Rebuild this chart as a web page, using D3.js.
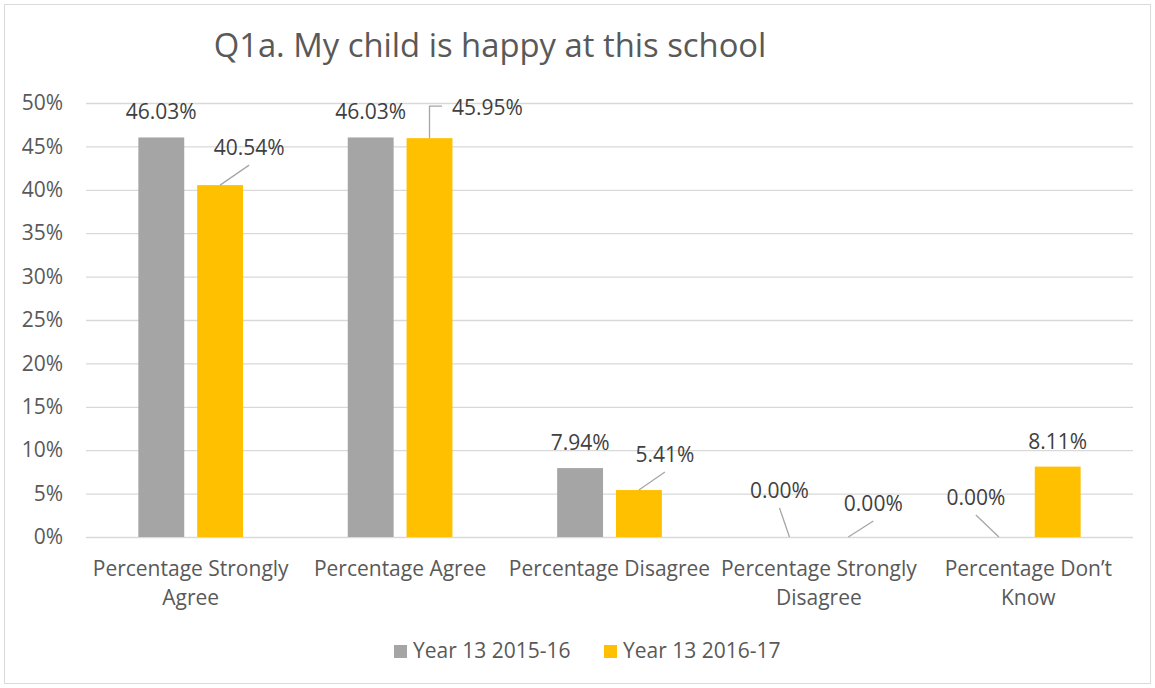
<!DOCTYPE html>
<html>
<head>
<meta charset="utf-8">
<script src="https://cdn.jsdelivr.net/npm/d3@7"></script>
<style>
  body { margin: 0; background: #fff; }
  svg text { font-family: "Open Sans", sans-serif; }
</style>
</head>
<body>
<svg id="chart" width="1155" height="688"></svg>
<script>
// chart data
const title = "Q1a. My child is happy at this school";
const categories = ["Percentage Strongly Agree", "Percentage Agree", "Percentage Disagree",
                    "Percentage Strongly Disagree", "Percentage Don\u2019t Know"];
const seriesNames = ["Year 13 2015-16", "Year 13 2016-17"];
const year2015 = [0.4603, 0.4603, 0.0794, 0.0, 0.0];
const year2016 = [0.4054, 0.4595, 0.0541, 0.0, 0.0811];
const yTicks = [0, 0.05, 0.10, 0.15, 0.20, 0.25, 0.30, 0.35, 0.40, 0.45, 0.50];
const colors = ["#a5a5a5", "#ffc000"];

// where the data labels were dragged to (offset from bar top centre), null = default
const labelMoves = [
  [null, null, null, {dx: -10, dy: -39}, {dx: -23, dy: -32}],
  [{dx: 29, dy: -30}, {dx: 58, dy: -23, elbow: true}, {dx: 26, dy: -28}, {dx: 25, dy: -26}, null]
];

const svg = d3.select("#chart"),
      margin = {top: 103, right: 22, bottom: 151, left: 86},
      width = +svg.attr("width") - margin.left - margin.right,
      height = +svg.attr("height") - margin.top - margin.bottom;

// outer border
svg.append("rect")
    .attr("x", 4.5).attr("y", 4.5)
    .attr("width", 1146).attr("height", 679)
    .attr("fill", "#fff")
    .attr("stroke", "#d9d9d9");

svg.append("text")
    .attr("x", 490).attr("y", 57)
    .attr("text-anchor", "middle")
    .attr("fill", "#595959")
    .style("font-size", "32.8px")
    .text(title);

const g = svg.append("g").attr("transform", "translate(" + margin.left + "," + margin.top + ")");

const x0 = d3.scaleBand().domain(d3.range(categories.length)).range([0, width])
    .paddingInner(0.5).paddingOuter(0.25);
const x1 = d3.scaleBand().domain([0, 1]).range([0, x0.bandwidth()]).paddingInner(0.22);
const y = d3.scaleLinear().domain([0, 0.5]).range([height, 0]);

// gridlines + tick labels
const yAxis = g.append("g")
    .call(d3.axisLeft(y).tickValues(yTicks).tickFormat(d3.format(".0%"))
          .tickSize(-width).tickPadding(23));
yAxis.select(".domain").remove();
yAxis.selectAll(".tick line").attr("stroke", "#d9d9d9").attr("stroke-width", 1.3);
yAxis.selectAll(".tick text").attr("fill", "#595959").style("font-size", "21px")
    .style("font-family", "'Open Sans', sans-serif");

// category labels, wrapped like Excel does
const catG = g.append("g").attr("transform", "translate(0," + height + ")");
categories.forEach(function(name, i) {
    const t = catG.append("text")
        .attr("x", x0(i) + x0.bandwidth() / 2)
        .attr("y", 39)
        .attr("text-anchor", "middle")
        .attr("fill", "#595959")
        .style("font-size", "21px");
    const words = name.split(" ");
    let line = [];
    let tspan = t.append("tspan").attr("x", x0(i) + x0.bandwidth() / 2).attr("dy", 0);
    words.forEach(function(w) {
        line.push(w);
        tspan.text(line.join(" "));
        if (tspan.node().getComputedTextLength() > x0.step() + 2 && line.length > 1) {
            line.pop();
            tspan.text(line.join(" "));
            line = [w];
            tspan = t.append("tspan").attr("x", x0(i) + x0.bandwidth() / 2).attr("dy", 29).text(w);
        }
    });
});

const series = [year2015, year2016];
const fmt = d3.format(".2%");

series.forEach(function(vals, s) {
    const sg = g.append("g");
    sg.selectAll("rect")
      .data(vals)
      .join("rect")
        .attr("x", (d, i) => x0(i) + x1(s))
        .attr("y", d => y(d))
        .attr("width", x1.bandwidth())
        .attr("height", d => height - y(d))
        .attr("fill", colors[s]);

    vals.forEach(function(v, i) {
        const cx = x0(i) + x1(s) + x1.bandwidth() / 2,
              top = y(v),
              mv = labelMoves[s][i];
        const lx = cx + (mv ? mv.dx : 0),
              ly = top + (mv ? mv.dy : -18);
        const lab = sg.append("text")
            .attr("x", lx).attr("y", ly)
            .attr("text-anchor", "middle")
            .attr("fill", "#404040")
            .style("font-size", "21px")
            .text(fmt(v));
        if (mv) {
            let pts;
            if (mv.elbow) {
                const left = lx - lab.node().getComputedTextLength() / 2 - 10;
                pts = [[cx, top], [cx, ly - 9], [left, ly - 9]];
            } else {
                pts = [[cx, top], [lx, ly + 10]];
            }
            sg.append("path")
                .attr("d", d3.line()(pts))
                .attr("fill", "none")
                .attr("stroke", "#a6a6a6")
                .attr("stroke-width", 1.3);
        }
    });
});

// legend
const legend = svg.append("g").attr("transform", "translate(394,645)");
const legendX = [0, 210];
seriesNames.forEach(function(name, s) {
    legend.append("rect")
        .attr("x", legendX[s]).attr("y", 0)
        .attr("width", 13).attr("height", 13)
        .attr("fill", colors[s]);
    legend.append("text")
        .attr("x", legendX[s] + 19).attr("y", 13)
        .attr("fill", "#595959")
        .style("font-size", "21px")
        .text(name);
});
</script>
</body>
</html>
